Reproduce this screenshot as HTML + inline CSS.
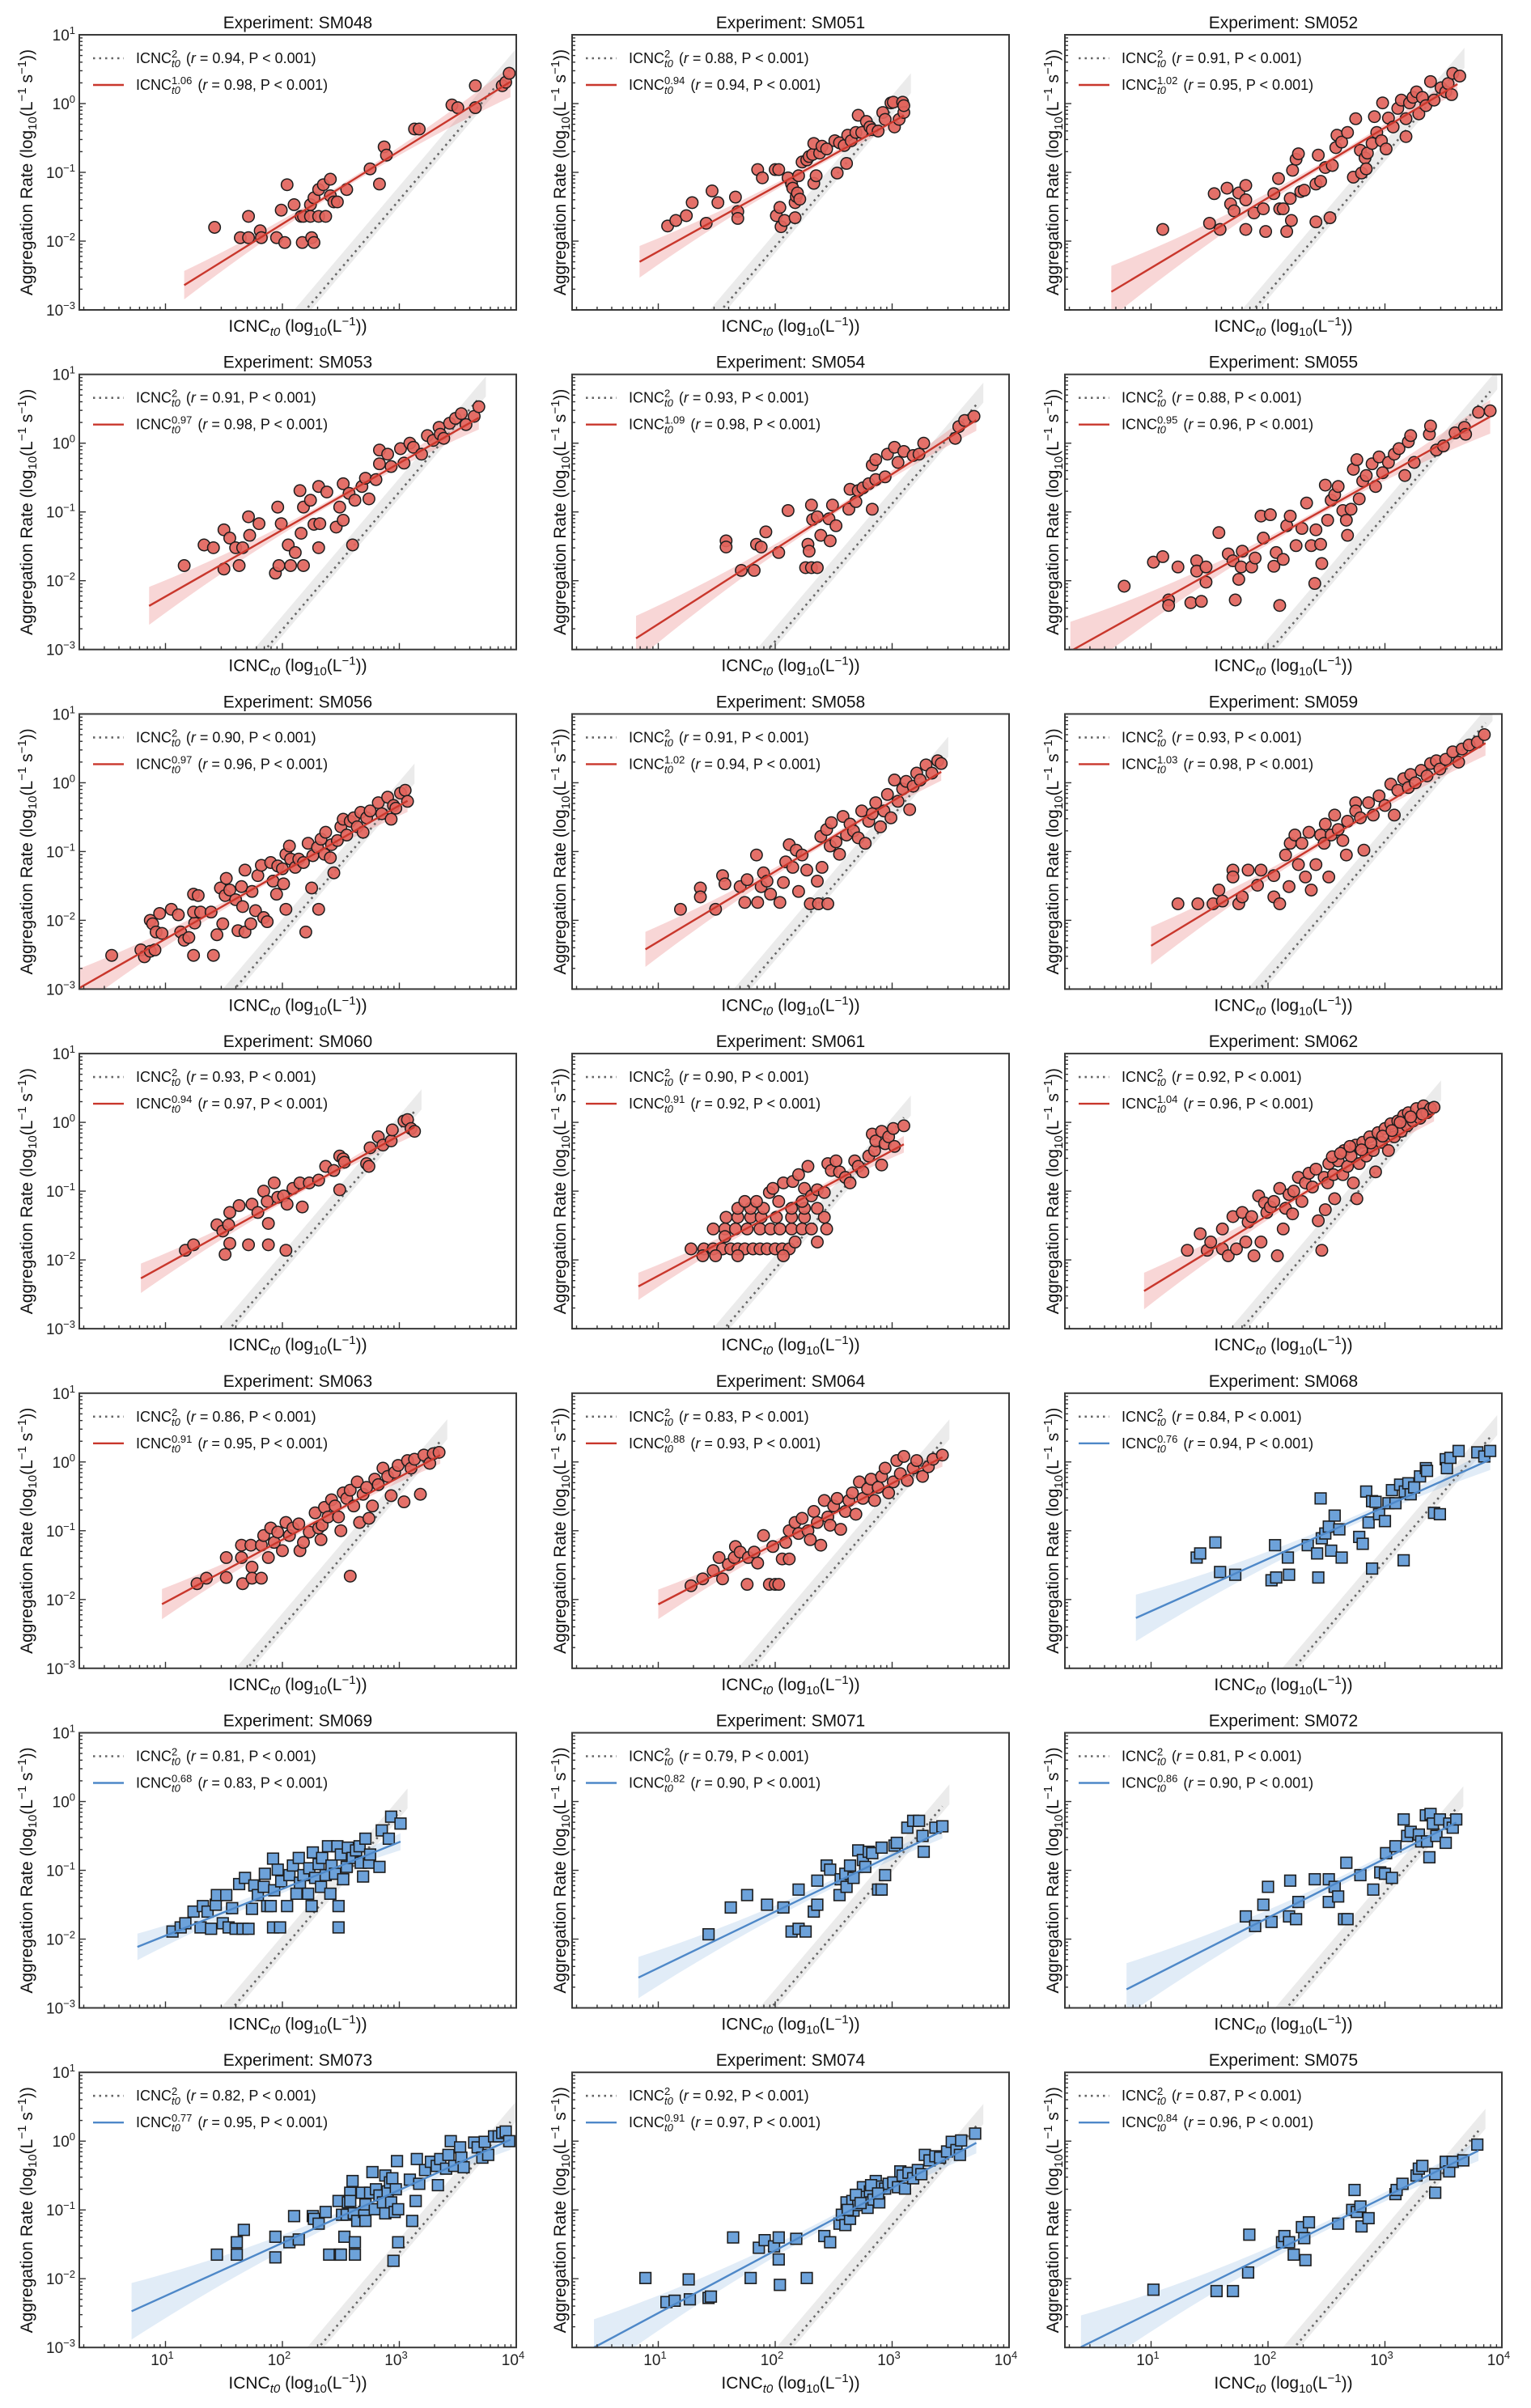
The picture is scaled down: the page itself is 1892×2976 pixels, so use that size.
<!DOCTYPE html>
<html><head><meta charset="utf-8"><title>Aggregation rate vs ICNC</title>
<style>
html,body{margin:0;padding:0;background:#fff;}
svg{display:block;font-family:"Liberation Sans",Arial,sans-serif;}
</style></head>
<body>
<svg id="fig" xmlns="http://www.w3.org/2000/svg" width="1892" height="2976" viewBox="0 0 1892 2976"></svg>
<script>
// ---------- chart data (log10 units) ----------
const panelNames = ["SM048","SM051","SM052","SM053","SM054","SM055","SM056","SM058","SM059","SM060","SM061","SM062","SM063","SM064","SM068","SM069","SM071","SM072","SM073","SM074","SM075"];
const exponents = [1.06,0.94,1.02,0.97,1.09,0.95,0.97,1.02,1.03,0.94,0.91,1.04,0.91,0.88,0.76,0.68,0.82,0.86,0.77,0.91,0.84];
const rSquareLaw = [0.94,0.88,0.91,0.91,0.93,0.88,0.90,0.91,0.93,0.93,0.90,0.92,0.86,0.83,0.84,0.81,0.79,0.81,0.82,0.92,0.87];
const rFit = [0.98,0.94,0.95,0.98,0.98,0.96,0.96,0.94,0.98,0.97,0.92,0.96,0.95,0.93,0.94,0.83,0.90,0.90,0.95,0.97,0.96];
const fitIntercepts = [-3.87,-3.09,-3.41,-3.2,-3.72,-3.32,-3.24,-3.33,-3.40,-3.01,-3.14,-3.43,-2.95,-2.95,-2.93,-2.63,-3.24,-3.41,-3.02,-3.41,-3.33];
const fitStart = [1.16,0.84,0.66,0.86,0.81,0.31,0.27,0.89,1.0,0.79,0.83,0.94,0.97,1.0,0.87,0.76,0.83,0.79,0.71,0.45,0.40];
const fitEnd = [3.95,3.1,3.62,3.68,3.72,3.9,3.07,3.42,3.86,3.13,3.1,3.42,3.35,3.43,3.9,3.01,3.43,3.61,3.95,3.72,3.8];
const grayIntercepts = [-7.4,-6.08,-6.75,-6.71,-6.88,-7.05,-6.18,-6.49,-6.85,-6.1,-6.13,-6.55,-6.4,-6.56,-7.44,-6.15,-6.93,-7.32,-7.62,-7.22,-7.45];
const xTickDecades = [1,2,3,4];
const yTickDecades = [1,0,-1,-2,-3];

const pts048 = [[1.42,-1.80],[1.64,-1.95],[1.71,-1.95],[1.71,-1.64],[1.81,-1.85],[1.82,-1.95],[1.95,-1.95],[1.99,-1.55],[2.02,-2.02],[2.04,-1.18],[2.10,-1.47],[2.16,-1.64],[2.17,-2.02],[2.18,-1.64],[2.24,-1.64],[2.24,-1.47],[2.25,-1.95],[2.27,-2.02],[2.27,-1.37],[2.31,-1.25],[2.31,-1.64],[2.35,-1.18],[2.37,-1.64],[2.41,-1.10],[2.41,-1.34],[2.44,-1.43],[2.47,-1.43],[2.55,-1.25],[2.75,-0.95],[2.83,-1.17],[2.87,-0.63],[2.89,-0.75],[3.13,-0.37],[3.17,-0.37],[3.45,-0.02],[3.50,-0.06],[3.65,0.26],[3.65,-0.06],[3.88,0.26],[3.91,0.31],[3.94,0.44]];
const pts051 = [[1.08,-1.78],[1.15,-1.70],[1.24,-1.63],[1.29,-1.44],[1.41,-1.74],[1.46,-1.27],[1.51,-1.44],[1.66,-1.36],[1.68,-1.57],[1.68,-1.67],[1.85,-0.96],[1.89,-1.08],[2.0,-0.96],[2.03,-0.96],[2.01,-1.63],[2.04,-1.51],[2.05,-1.79],[2.08,-1.70],[2.11,-1.08],[2.14,-1.17],[2.15,-1.23],[2.17,-1.44],[2.18,-1.35],[2.19,-1.30],[2.17,-1.66],[2.2,-1.05],[2.21,-1.39],[2.23,-0.85],[2.27,-0.82],[2.29,-0.77],[2.32,-0.74],[2.33,-1.16],[2.35,-1.05],[2.38,-0.72],[2.33,-0.58],[2.4,-0.62],[2.44,-0.66],[2.51,-0.54],[2.53,-1.01],[2.55,-0.57],[2.59,-0.61],[2.61,-0.87],[2.62,-0.46],[2.65,-0.54],[2.69,-0.42],[2.71,-0.17],[2.74,-0.42],[2.78,-0.26],[2.81,-0.34],[2.83,-0.38],[2.88,-0.40],[2.92,-0.13],[2.94,-0.23],[2.99,0.01],[3.01,0.02],[3.02,-0.34],[3.06,-0.23],[3.09,0.02],[3.1,-0.13],[3.1,-0.03]];
const pts052 = [[1.10,-1.83],[1.50,-1.74],[1.54,-1.31],[1.59,-1.83],[1.65,-1.23],[1.68,-1.46],[1.71,-1.56],[1.75,-1.30],[1.81,-1.19],[1.81,-1.40],[1.81,-1.83],[1.88,-1.59],[1.96,-1.53],[1.98,-1.86],[2.05,-1.31],[2.09,-1.09],[2.10,-1.53],[2.13,-1.53],[2.16,-1.86],[2.19,-1.38],[2.20,-1.70],[2.21,-0.97],[2.24,-0.81],[2.26,-0.73],[2.28,-1.28],[2.31,-1.26],[2.41,-1.72],[2.41,-1.17],[2.43,-0.75],[2.45,-1.13],[2.49,-0.93],[2.53,-1.66],[2.55,-0.90],[2.58,-0.64],[2.59,-0.46],[2.63,-0.56],[2.68,-0.42],[2.73,-1.07],[2.75,-0.22],[2.79,-0.68],[2.80,-1.01],[2.83,-0.79],[2.84,-0.95],[2.85,-0.72],[2.89,-0.58],[2.91,-0.19],[2.93,-0.42],[2.97,-0.54],[2.98,0.01],[3.01,-0.66],[3.03,-0.21],[3.07,-0.34],[3.11,-0.07],[3.14,0.05],[3.18,-0.22],[3.18,-0.48],[3.21,0.01],[3.24,0.09],[3.27,0.17],[3.29,-0.15],[3.32,0.09],[3.35,-0.03],[3.39,0.32],[3.42,0.05],[3.48,0.23],[3.52,0.17],[3.54,0.29],[3.57,0.13],[3.58,0.44],[3.64,0.40]];
const pts053 = [[1.16,-1.78],[1.33,-1.48],[1.41,-1.52],[1.50,-1.26],[1.50,-1.83],[1.55,-1.38],[1.60,-1.52],[1.63,-1.78],[1.66,-1.52],[1.71,-1.07],[1.72,-1.34],[1.80,-1.17],[1.96,-0.93],[1.94,-1.89],[1.97,-1.78],[1.99,-1.17],[2.05,-1.48],[2.07,-1.78],[2.11,-1.59],[2.15,-0.69],[2.16,-1.31],[2.18,-1.78],[2.18,-0.93],[2.24,-0.83],[2.27,-1.18],[2.31,-0.63],[2.31,-1.52],[2.32,-1.17],[2.38,-0.71],[2.46,-1.22],[2.49,-0.93],[2.52,-0.59],[2.52,-1.12],[2.57,-0.73],[2.60,-1.48],[2.62,-0.83],[2.68,-0.63],[2.71,-0.51],[2.74,-0.81],[2.80,-0.53],[2.83,-0.10],[2.83,-0.30],[2.90,-0.16],[2.93,-0.34],[3.01,-0.08],[3.04,-0.29],[3.09,0.00],[3.12,-0.06],[3.19,-0.16],[3.24,0.11],[3.29,0.04],[3.34,0.23],[3.35,0.13],[3.38,0.07],[3.43,0.29],[3.48,0.36],[3.53,0.43],[3.57,0.27],[3.64,0.39],[3.68,0.53]];
const pts054 = [[1.58,-1.42],[1.58,-1.51],[1.71,-1.85],[1.82,-1.85],[1.84,-1.47],[1.88,-1.51],[1.92,-1.29],[2.03,-1.59],[2.11,-0.98],[2.26,-1.81],[2.31,-1.81],[2.36,-1.81],[2.28,-1.47],[2.29,-1.57],[2.31,-0.90],[2.32,-1.11],[2.36,-1.07],[2.39,-1.34],[2.46,-1.10],[2.47,-1.42],[2.49,-0.90],[2.52,-1.20],[2.63,-0.96],[2.64,-0.67],[2.69,-0.85],[2.71,-0.69],[2.75,-0.65],[2.80,-0.59],[2.83,-0.96],[2.86,-0.53],[2.94,-0.49],[2.83,-0.32],[2.86,-0.24],[2.96,-0.16],[3.02,-0.06],[3.05,-0.28],[3.10,-0.12],[3.18,-0.18],[3.23,-0.16],[3.27,0.00],[3.54,0.07],[3.57,0.24],[3.62,0.33],[3.70,0.39]];
const pts055 = [[0.77,-2.08],[1.02,-1.73],[1.10,-1.65],[1.15,-2.28],[1.15,-2.36],[1.23,-1.80],[1.34,-2.32],[1.39,-1.71],[1.43,-2.30],[1.39,-1.86],[1.47,-2.02],[1.47,-1.80],[1.58,-1.30],[1.66,-1.61],[1.70,-1.71],[1.72,-2.28],[1.75,-1.98],[1.77,-1.80],[1.78,-1.57],[1.86,-1.80],[1.89,-1.67],[1.94,-1.06],[1.96,-1.38],[2.02,-1.04],[2.05,-1.79],[2.07,-1.59],[2.10,-2.36],[2.13,-1.69],[2.16,-1.20],[2.19,-1.06],[2.24,-1.49],[2.29,-1.24],[2.33,-0.87],[2.37,-1.49],[2.40,-2.04],[2.41,-1.26],[2.45,-1.47],[2.46,-1.75],[2.49,-0.61],[2.51,-1.12],[2.54,-0.83],[2.57,-0.75],[2.60,-0.63],[2.64,-0.98],[2.67,-1.12],[2.68,-1.34],[2.71,-0.96],[2.73,-0.38],[2.76,-0.24],[2.78,-0.81],[2.81,-0.55],[2.84,-0.47],[2.89,-0.30],[2.92,-0.63],[2.95,-0.20],[2.98,-0.43],[3.03,-0.28],[3.08,-0.16],[3.12,-0.08],[3.17,-0.47],[3.20,0.02],[3.22,0.11],[3.25,-0.28],[3.38,0.13],[3.39,0.25],[3.44,-0.10],[3.50,-0.04],[3.60,0.15],[3.68,0.23],[3.69,0.13],[3.80,0.45],[3.90,0.47]];
const pts056 = [[0.54,-2.51],[0.79,-2.43],[0.82,-2.53],[0.87,-2.45],[0.91,-2.43],[0.87,-2.00],[0.89,-2.05],[0.92,-2.17],[0.97,-2.19],[0.95,-1.90],[1.05,-1.84],[1.11,-1.92],[1.13,-2.17],[1.16,-2.29],[1.20,-2.25],[1.24,-2.51],[1.25,-2.04],[1.24,-1.62],[1.28,-1.64],[1.24,-1.88],[1.30,-1.88],[1.39,-1.88],[1.41,-2.51],[1.44,-2.21],[1.47,-1.53],[1.49,-2.05],[1.51,-1.64],[1.52,-1.39],[1.55,-1.56],[1.60,-1.70],[1.62,-2.15],[1.65,-1.51],[1.66,-1.80],[1.68,-2.17],[1.68,-1.27],[1.73,-2.05],[1.74,-1.58],[1.77,-1.86],[1.79,-1.35],[1.82,-1.20],[1.84,-1.96],[1.87,-2.02],[1.90,-1.16],[1.92,-1.43],[1.95,-1.62],[1.96,-1.21],[2.01,-1.47],[2.03,-1.84],[2.00,-1.25],[2.03,-1.04],[2.07,-1.11],[2.06,-0.92],[2.11,-1.23],[2.14,-1.11],[2.18,-1.16],[2.20,-2.17],[2.22,-0.88],[2.25,-1.53],[2.26,-1.06],[2.30,-0.94],[2.31,-1.84],[2.33,-0.82],[2.36,-1.04],[2.37,-0.72],[2.41,-1.09],[2.42,-0.90],[2.44,-1.31],[2.47,-0.84],[2.50,-0.64],[2.52,-0.53],[2.55,-0.76],[2.58,-0.56],[2.61,-0.51],[2.64,-0.64],[2.67,-0.43],[2.69,-0.72],[2.72,-0.51],[2.75,-0.41],[2.82,-0.29],[2.85,-0.45],[2.90,-0.21],[2.93,-0.53],[2.95,-0.33],[2.97,-0.37],[3.01,-0.15],[3.05,-0.11],[3.07,-0.27]];
const pts058 = [[1.19,-1.84],[1.36,-1.53],[1.36,-1.66],[1.49,-1.84],[1.55,-1.35],[1.57,-1.47],[1.70,-1.51],[1.74,-1.74],[1.76,-1.41],[1.84,-1.05],[1.85,-1.74],[1.88,-1.51],[1.90,-1.31],[1.93,-1.43],[1.96,-1.62],[2.04,-1.74],[2.07,-1.45],[2.09,-1.15],[2.12,-0.90],[2.15,-1.23],[2.18,-0.98],[2.20,-1.58],[2.23,-1.05],[2.27,-1.27],[2.30,-1.76],[2.36,-1.43],[2.37,-1.76],[2.39,-0.78],[2.40,-1.23],[2.44,-0.68],[2.45,-1.76],[2.47,-0.92],[2.48,-0.58],[2.52,-0.86],[2.55,-1.04],[2.58,-0.49],[2.61,-0.76],[2.64,-0.60],[2.67,-0.70],[2.71,-0.80],[2.74,-0.41],[2.77,-0.88],[2.80,-0.56],[2.83,-0.45],[2.86,-0.29],[2.90,-0.64],[2.93,-0.41],[2.96,-0.17],[2.99,-0.51],[3.02,0.04],[3.05,-0.27],[3.09,-0.09],[3.12,0.02],[3.15,-0.39],[3.18,-0.05],[3.21,0.14],[3.24,0.04],[3.29,0.26],[3.34,0.14],[3.39,0.32],[3.42,0.28]];
const pts059 = [[1.23,-1.76],[1.40,-1.76],[1.53,-1.76],[1.58,-1.56],[1.61,-1.72],[1.70,-1.27],[1.70,-1.37],[1.75,-1.76],[1.78,-1.66],[1.83,-1.27],[1.91,-1.49],[1.94,-1.27],[2.05,-1.35],[2.05,-1.66],[2.10,-1.76],[2.15,-1.05],[2.18,-1.51],[2.19,-0.88],[2.23,-0.76],[2.26,-1.19],[2.29,-0.88],[2.32,-1.37],[2.35,-0.72],[2.37,-1.56],[2.41,-1.19],[2.45,-0.76],[2.48,-0.88],[2.49,-0.60],[2.52,-1.37],[2.54,-0.76],[2.57,-0.47],[2.60,-0.68],[2.64,-0.84],[2.67,-1.05],[2.68,-0.56],[2.75,-0.29],[2.75,-0.41],[2.79,-0.51],[2.82,-0.98],[2.86,-0.29],[2.90,-0.47],[2.95,-0.19],[3.00,-0.33],[3.05,-0.02],[3.08,-0.47],[3.11,-0.11],[3.16,0.06],[3.20,-0.07],[3.22,0.12],[3.26,0.00],[3.31,0.18],[3.36,0.10],[3.39,0.28],[3.44,0.32],[3.47,0.20],[3.52,0.34],[3.58,0.45],[3.63,0.30],[3.66,0.49],[3.72,0.55],[3.79,0.59],[3.85,0.70]];
const pts060 = [[1.17,-1.86],[1.24,-1.78],[1.44,-1.49],[1.49,-1.58],[1.51,-1.92],[1.54,-1.49],[1.55,-1.76],[1.55,-1.31],[1.63,-1.21],[1.71,-1.78],[1.74,-1.19],[1.79,-1.31],[1.84,-1.00],[1.87,-1.15],[1.88,-1.47],[1.88,-1.78],[1.93,-0.88],[1.96,-1.09],[2.01,-1.07],[2.03,-1.86],[2.04,-1.19],[2.09,-0.96],[2.15,-0.88],[2.17,-1.23],[2.23,-0.88],[2.31,-0.84],[2.37,-0.64],[2.44,-0.70],[2.49,-0.98],[2.49,-0.49],[2.52,-0.53],[2.53,-0.58],[2.72,-0.60],[2.74,-0.64],[2.75,-0.37],[2.82,-0.21],[2.86,-0.33],[2.93,-0.27],[2.94,-0.11],[3.04,0.02],[3.07,0.04],[3.10,-0.09],[3.13,-0.13]];
const pts061 = [[1.28,-1.84],[1.39,-1.84],[1.47,-1.84],[1.55,-1.84],[1.62,-1.84],[1.68,-1.84],[1.74,-1.84],[1.81,-1.84],[1.87,-1.84],[1.93,-1.84],[2.00,-1.84],[2.06,-1.84],[2.12,-1.84],[1.38,-1.94],[1.49,-1.94],[2.07,-1.94],[1.68,-1.94],[1.47,-1.55],[1.57,-1.55],[1.66,-1.55],[1.76,-1.55],[1.87,-1.55],[1.96,-1.55],[2.04,-1.55],[2.14,-1.55],[2.23,-1.55],[2.31,-1.55],[2.44,-1.55],[1.58,-1.38],[1.68,-1.38],[1.79,-1.38],[1.88,-1.38],[2.01,-1.38],[2.14,-1.38],[2.25,-1.38],[2.42,-1.38],[1.68,-1.25],[1.79,-1.25],[1.90,-1.25],[2.14,-1.25],[2.25,-1.25],[2.36,-1.25],[1.74,-1.15],[1.84,-1.15],[2.03,-1.15],[2.23,-1.15],[1.57,-1.66],[2.17,-1.74],[2.36,-1.74],[1.95,-1.02],[1.98,-0.96],[2.07,-0.88],[2.15,-0.86],[2.25,-0.96],[2.28,-0.64],[2.20,-0.76],[2.31,-1.07],[2.36,-0.98],[2.42,-1.02],[2.45,-0.60],[2.48,-0.70],[2.52,-0.56],[2.55,-0.72],[2.60,-0.80],[2.64,-0.88],[2.68,-0.56],[2.71,-0.64],[2.75,-0.72],[2.80,-0.49],[2.85,-0.41],[2.91,-0.62],[2.83,-0.17],[2.86,-0.27],[2.91,-0.13],[2.94,-0.31],[2.97,-0.21],[3.01,-0.09],[3.02,-0.35],[3.10,-0.05]];
const pts062 = [[1.31,-1.86],[1.42,-1.62],[1.48,-1.86],[1.51,-1.74],[1.61,-1.55],[1.61,-1.84],[1.66,-1.94],[1.70,-1.37],[1.73,-1.84],[1.78,-1.31],[1.81,-1.74],[1.83,-1.45],[1.86,-1.37],[1.88,-1.94],[1.92,-1.07],[1.94,-1.74],[1.97,-1.17],[1.99,-1.31],[2.02,-1.23],[2.05,-1.15],[2.08,-1.94],[2.10,-0.96],[2.13,-1.55],[2.15,-1.25],[2.18,-1.05],[2.21,-1.33],[2.22,-1.00],[2.26,-0.80],[2.29,-1.15],[2.32,-0.88],[2.35,-0.74],[2.38,-0.94],[2.41,-0.68],[2.43,-1.43],[2.46,-1.86],[2.48,-0.80],[2.49,-1.27],[2.51,-0.88],[2.52,-0.60],[2.56,-0.76],[2.57,-1.11],[2.60,-0.56],[2.64,-0.76],[2.65,-0.41],[2.68,-0.64],[2.71,-0.49],[2.73,-0.88],[2.75,-0.33],[2.76,-1.11],[2.78,-0.60],[2.81,-0.29],[2.84,-0.49],[2.87,-0.21],[2.90,-0.41],[2.92,-0.72],[2.94,-0.15],[2.97,-0.29],[3.00,-0.09],[3.03,-0.41],[3.05,-0.02],[3.08,-0.21],[3.11,0.02],[3.14,-0.13],[3.16,0.10],[3.19,-0.05],[3.20,0.14],[3.24,0.02],[3.27,0.20],[3.30,0.06],[3.33,0.24],[3.36,0.14],[3.39,0.20],[3.42,0.22],[2.55,-0.50],[2.62,-0.45],[2.70,-0.35],[2.80,-0.40],[2.88,-0.30],[2.98,-0.20],[3.06,-0.12],[3.13,0.00],[3.22,0.08],[3.32,0.12]];
const pts063 = [[1.27,-1.77],[1.35,-1.69],[1.52,-1.39],[1.52,-1.68],[1.65,-1.39],[1.66,-1.77],[1.65,-1.21],[1.73,-1.21],[1.74,-1.53],[1.74,-1.69],[1.82,-1.69],[1.82,-1.21],[1.84,-1.07],[1.88,-1.39],[1.90,-0.96],[1.93,-1.17],[1.96,-1.02],[2.00,-1.29],[2.03,-0.88],[2.06,-1.07],[2.09,-0.96],[2.14,-0.90],[2.15,-1.29],[2.18,-1.17],[2.23,-1.02],[2.28,-0.74],[2.31,-0.96],[2.33,-1.13],[2.34,-0.92],[2.36,-0.66],[2.39,-0.80],[2.42,-0.55],[2.45,-0.64],[2.48,-0.80],[2.50,-1.00],[2.52,-0.45],[2.55,-0.53],[2.58,-0.41],[2.58,-1.66],[2.61,-0.64],[2.64,-0.29],[2.66,-0.88],[2.69,-0.47],[2.72,-0.37],[2.74,-0.82],[2.77,-0.64],[2.79,-0.25],[2.82,-0.33],[2.86,-0.09],[2.90,-0.21],[2.93,-0.49],[2.96,-0.15],[2.99,-0.05],[3.04,-0.58],[3.07,0.02],[3.10,-0.09],[3.13,0.04],[3.18,-0.47],[3.21,0.10],[3.26,-0.02],[3.29,0.12],[3.34,0.14]];
const pts064 = [[1.28,-1.80],[1.38,-1.70],[1.47,-1.58],[1.52,-1.39],[1.55,-1.70],[1.60,-1.49],[1.65,-1.39],[1.66,-1.23],[1.70,-1.31],[1.76,-1.78],[1.77,-1.39],[1.82,-1.31],[1.85,-1.47],[1.90,-1.07],[1.95,-1.78],[2.00,-1.78],[2.03,-1.78],[1.98,-1.23],[2.06,-1.41],[2.09,-1.17],[2.12,-1.41],[2.12,-1.00],[2.17,-0.88],[2.20,-1.04],[2.23,-0.82],[2.28,-1.00],[2.30,-1.13],[2.33,-0.72],[2.36,-0.88],[2.39,-1.21],[2.42,-0.56],[2.45,-0.80],[2.47,-0.92],[2.50,-0.64],[2.53,-0.53],[2.56,-0.98],[2.60,-0.72],[2.63,-0.56],[2.66,-0.45],[2.69,-0.76],[2.72,-0.29],[2.75,-0.53],[2.79,-0.39],[2.82,-0.25],[2.85,-0.56],[2.88,-0.37],[2.91,-0.21],[2.94,-0.09],[2.97,-0.45],[3.01,-0.29],[3.04,0.02],[3.07,-0.17],[3.10,0.08],[3.13,-0.27],[3.18,-0.09],[3.21,0.02],[3.26,-0.21],[3.31,-0.07],[3.35,0.04],[3.43,0.10]];
const pts068 = [[1.39,-1.39],[1.42,-1.33],[1.55,-1.17],[1.59,-1.60],[1.72,-1.64],[2.03,-1.72],[2.07,-1.68],[2.06,-1.21],[2.17,-1.39],[2.18,-1.64],[2.34,-1.21],[2.42,-1.33],[2.43,-1.68],[2.45,-0.53],[2.46,-1.11],[2.49,-1.04],[2.52,-0.94],[2.54,-1.29],[2.57,-0.78],[2.61,-0.98],[2.63,-1.39],[2.78,-1.09],[2.81,-1.19],[2.84,-0.43],[2.86,-0.88],[2.89,-0.57],[2.89,-1.55],[2.92,-0.58],[2.95,-0.76],[3.00,-0.86],[3.03,-0.60],[3.06,-0.41],[3.09,-0.60],[3.13,-0.33],[3.16,-1.43],[3.17,-0.43],[3.20,-0.31],[3.22,-0.47],[3.25,-0.37],[3.30,-0.21],[3.35,-0.09],[3.36,-0.13],[3.42,-0.74],[3.47,-0.76],[3.52,0.04],[3.53,-0.09],[3.56,0.06],[3.63,0.16],[3.79,0.14],[3.85,0.08],[3.90,0.16]];
const pts069 = [[1.06,-1.89],[1.13,-1.83],[1.17,-1.77],[1.24,-1.60],[1.30,-1.83],[1.32,-1.52],[1.36,-1.60],[1.39,-1.85],[1.43,-1.50],[1.44,-1.36],[1.49,-1.77],[1.52,-1.36],[1.54,-1.83],[1.57,-1.55],[1.60,-1.85],[1.63,-1.20],[1.66,-1.85],[1.68,-1.11],[1.71,-1.85],[1.74,-1.56],[1.76,-1.22],[1.79,-1.36],[1.84,-1.24],[1.85,-1.05],[1.87,-1.52],[1.90,-1.52],[1.92,-0.83],[1.92,-1.83],[1.93,-1.29],[1.96,-0.99],[1.98,-1.83],[1.99,-1.16],[2.04,-1.52],[2.06,-1.07],[2.09,-0.93],[2.12,-1.34],[2.14,-0.82],[2.15,-1.18],[2.18,-1.07],[2.22,-1.34],[2.23,-0.97],[2.25,-1.52],[2.26,-0.74],[2.28,-1.11],[2.31,-0.91],[2.33,-1.24],[2.34,-0.82],[2.37,-1.07],[2.39,-0.65],[2.41,-1.34],[2.42,-0.93],[2.45,-1.05],[2.47,-0.65],[2.48,-1.83],[2.48,-1.52],[2.50,-0.77],[2.52,-1.13],[2.55,-0.95],[2.56,-0.67],[2.60,-0.82],[2.63,-0.71],[2.66,-0.65],[2.67,-0.89],[2.69,-1.09],[2.71,-0.54],[2.74,-0.89],[2.75,-0.77],[2.83,-0.95],[2.85,-0.42],[2.91,-0.54],[2.93,-0.22],[3.01,-0.32]];
const pts071 = [[1.43,-1.93],[1.62,-1.54],[1.76,-1.36],[1.93,-1.50],[2.07,-1.54],[2.14,-1.89],[2.20,-1.85],[2.26,-1.89],[2.20,-1.28],[2.33,-1.60],[2.36,-1.50],[2.36,-1.15],[2.44,-0.93],[2.47,-0.99],[2.55,-1.36],[2.56,-1.13],[2.60,-1.05],[2.61,-1.24],[2.64,-0.93],[2.67,-1.11],[2.71,-0.71],[2.75,-0.85],[2.77,-0.95],[2.80,-0.73],[2.83,-0.75],[2.88,-1.28],[2.91,-1.28],[2.91,-0.67],[2.94,-1.07],[3.02,-0.64],[3.04,-0.60],[3.13,-0.38],[3.18,-0.28],[3.23,-0.28],[3.26,-0.50],[3.27,-0.73],[3.37,-0.38],[3.43,-0.36]];
const pts072 = [[1.81,-1.67],[1.89,-1.81],[1.96,-1.50],[2.00,-1.24],[2.03,-1.75],[2.18,-1.67],[2.19,-1.15],[2.24,-1.71],[2.26,-1.46],[2.40,-1.13],[2.52,-1.46],[2.52,-1.13],[2.57,-1.24],[2.60,-1.38],[2.65,-1.71],[2.68,-1.71],[2.67,-0.89],[2.79,-1.07],[2.90,-1.28],[2.96,-1.03],[3.00,-1.05],[3.01,-0.75],[3.06,-1.11],[3.09,-0.65],[3.16,-0.26],[3.19,-0.50],[3.22,-0.44],[3.29,-0.48],[3.31,-0.58],[3.35,-0.20],[3.36,-0.58],[3.38,-0.81],[3.39,-0.18],[3.41,-0.32],[3.44,-0.50],[3.47,-0.26],[3.52,-0.60],[3.55,-0.32],[3.58,-0.38],[3.61,-0.26]];
const pts073 = [[1.44,-1.65],[1.61,-1.65],[1.61,-1.47],[1.67,-1.29],[1.94,-1.39],[1.94,-1.69],[2.06,-1.47],[2.10,-1.09],[2.14,-1.43],[2.26,-1.09],[2.27,-1.13],[2.31,-1.20],[2.37,-1.03],[2.40,-1.65],[2.48,-0.87],[2.49,-1.65],[2.50,-1.65],[2.51,-1.07],[2.53,-1.39],[2.55,-1.07],[2.56,-0.89],[2.58,-0.75],[2.58,-0.87],[2.60,-0.58],[2.61,-1.05],[2.62,-1.65],[2.62,-1.47],[2.64,-1.16],[2.68,-0.75],[2.70,-1.03],[2.71,-1.16],[2.71,-0.92],[2.75,-0.75],[2.77,-0.45],[2.79,-0.99],[2.80,-0.70],[2.83,-0.79],[2.86,-0.89],[2.88,-0.50],[2.88,-1.05],[2.90,-0.73],[2.92,-0.60],[2.93,-0.89],[2.94,-0.54],[2.96,-1.03],[2.97,-0.70],[2.98,-0.29],[2.99,-0.99],[2.99,-1.47],[2.95,-1.74],[3.09,-0.56],[3.11,-1.16],[3.14,-0.87],[3.15,-0.26],[3.17,-0.62],[3.22,-0.42],[3.27,-0.30],[3.32,-0.36],[3.33,-0.64],[3.35,-0.26],[3.40,-0.40],[3.42,-0.20],[3.44,0.00],[3.47,-0.36],[3.52,-0.09],[3.53,-0.24],[3.55,-0.38],[3.64,-0.02],[3.67,-0.09],[3.71,-0.24],[3.73,-0.01],[3.76,-0.20],[3.81,0.07],[3.85,0.07],[3.88,0.12],[3.91,0.14],[3.94,0.00]];
const pts074 = [[0.89,-1.99],[1.07,-2.34],[1.14,-2.32],[1.26,-2.01],[1.27,-2.30],[1.43,-2.28],[1.45,-2.26],[1.64,-1.40],[1.79,-1.99],[1.86,-1.55],[1.91,-1.44],[1.99,-1.53],[2.03,-1.40],[2.03,-1.72],[2.04,-2.09],[2.18,-1.42],[2.27,-1.99],[2.42,-1.38],[2.47,-1.47],[2.55,-1.20],[2.57,-1.07],[2.60,-1.22],[2.61,-0.89],[2.64,-1.13],[2.66,-0.87],[2.67,-1.01],[2.71,-0.93],[2.75,-0.67],[2.77,-0.81],[2.79,-0.97],[2.81,-0.73],[2.84,-0.85],[2.86,-0.58],[2.89,-0.89],[2.91,-0.66],[2.94,-0.69],[2.97,-0.62],[3.01,-0.60],[3.05,-0.67],[3.07,-0.44],[3.09,-0.50],[3.11,-0.69],[3.14,-0.46],[3.18,-0.54],[3.22,-0.42],[3.25,-0.48],[3.28,-0.20],[3.32,-0.28],[3.37,-0.22],[3.41,-0.24],[3.47,-0.15],[3.51,-0.01],[3.55,-0.13],[3.58,-0.20],[3.59,0.01],[3.71,0.11],[2.62,-1.00],[2.69,-0.78],[2.73,-0.90],[2.82,-0.64],[2.88,-0.76]];
const pts075 = [[1.02,-2.16],[1.56,-2.18],[1.70,-2.18],[1.83,-1.91],[1.84,-1.36],[2.12,-1.47],[2.14,-1.38],[2.18,-1.47],[2.22,-1.65],[2.29,-1.25],[2.31,-1.41],[2.32,-1.73],[2.35,-1.18],[2.60,-1.20],[2.72,-1.00],[2.74,-0.71],[2.76,-1.03],[2.79,-0.95],[2.80,-1.24],[2.86,-1.12],[3.09,-0.77],[3.10,-0.71],[3.15,-0.62],[3.27,-0.50],[3.29,-0.40],[3.32,-0.36],[3.43,-0.48],[3.43,-0.75],[3.52,-0.30],[3.55,-0.44],[3.58,-0.30],[3.67,-0.28],[3.79,-0.05]];
const panelPoints = [pts048,pts051,pts052,pts053,pts054,pts055,pts056,pts058,pts059,pts060,pts061,pts062,pts063,pts064,pts068,pts069,pts071,pts072,pts073,pts074,pts075];

// ---------- layout ----------
const NS = "http://www.w3.org/2000/svg";
const svg = document.getElementById('fig');
const COL_L = [98, 707, 1316];
const ROW_T0 = 43, ROW_STEP = 419.7, W = 540, H = 340;
const XMIN = 0.263, XDEC = 144.5, YDEC = 85;

function el(tag, attrs, parent) {
  const e = document.createElementNS(NS, tag);
  for (const k in attrs) e.setAttribute(k, attrs[k]);
  (parent || svg).appendChild(e);
  return e;
}
function digitW(s, fs) {
  let w = 0;
  for (const c of s) w += (c === '.' ? 0.278 : c === '−' ? 0.584 : c === 't' ? 0.278 : 0.556) * fs;
  return w;
}

panelNames.forEach((name, i) => {
  const c = i % 3, r = Math.floor(i / 3);
  const L = COL_L[c], T = ROW_T0 + r * ROW_STEP, B = T + H;
  const xs = lx => L + (lx - XMIN) * XDEC;
  const ys = ly => T + (1 - ly) * YDEC;
  const blue = i >= 14;
  const markFill = blue ? '#6DA2DA' : '#E2645C';
  const lineCol = blue ? '#4E88C8' : '#C9372C';
  const bandCol = blue ? 'rgba(120,168,220,0.22)' : 'rgba(232,120,120,0.30)';
  const g = el('g', {});
  
  

  const clipId = 'clip' + i;
  const cp = el('clipPath', { id: clipId }, g);
  el('rect', { x: L, y: T, width: W, height: H }, cp);
  const plot = el('g', { 'clip-path': 'url(#' + clipId + ')' }, g);
  
  

  const pts = panelPoints[i];
  const xm = pts.reduce((a, p) => a + p[0], 0) / pts.length;
  const slope = exponents[i], b0 = fitIntercepts[i], gb = grayIntercepts[i];

  // gray reference band + line (slope 2)
  const gx0 = (-3.3 - gb) / 2, gx1 = fitEnd[i] + 0.06;
  let up = [], lo = [];
  for (let k = 0; k <= 20; k++) {
    const lx = gx0 + (gx1 - gx0) * k / 20;
    const ly = 2 * lx + gb;
    up.push(xs(lx) + ',' + ys(ly + 0.2));
    lo.unshift(xs(lx) + ',' + ys(ly - 0.09));
  }
  const gband = el('polygon', { points: up.concat(lo).join(' '), fill: 'rgba(190,190,190,0.3)' }, plot);
  
  

  // fit band
  up = []; lo = [];
  const a0 = blue ? 0.06 : 0.04, a1 = blue ? 0.075 : 0.09;
  for (let k = 0; k <= 30; k++) {
    const lx = fitStart[i] + (fitEnd[i] - fitStart[i]) * k / 30;
    const ly = slope * lx + b0, hw = a0 + a1 * (lx - xm) * (lx - xm);
    up.push(xs(lx) + ',' + ys(ly + hw));
    lo.unshift(xs(lx) + ',' + ys(ly - hw));
  }
  const fband = el('polygon', { points: up.concat(lo).join(' '), fill: bandCol }, plot);
  
  

  const gl = el('line', { x1: xs(gx0), y1: ys(2 * gx0 + gb), x2: xs(fitEnd[i]), y2: ys(2 * fitEnd[i] + gb), stroke: '#666', 'stroke-width': 2.6, 'stroke-dasharray': '2.5 5' }, plot);
  
  

  // points
  pts.forEach(p => {
    let m;
    if (blue) {
      m = el('rect', { x: xs(p[0]) - 6.8, y: ys(p[1]) - 6.8, width: 13.6, height: 13.6, fill: markFill, stroke: '#1d1d1d', 'stroke-width': 1.6 }, plot);
    } else {
      m = el('circle', { cx: xs(p[0]), cy: ys(p[1]), r: 7.2, fill: markFill, 'fill-opacity': 0.92, stroke: '#1d1d1d', 'stroke-width': 1.5 }, plot);
    }
    
    
  });

  const fl = el('line', { x1: xs(fitStart[i]), y1: ys(slope * fitStart[i] + b0), x2: xs(fitEnd[i]), y2: ys(slope * fitEnd[i] + b0), stroke: lineCol, 'stroke-width': 2.4 }, plot);
  
  

  // frame
  const fr = el('rect', { x: L, y: T, width: W, height: H, fill: 'none', stroke: '#3a3a3a', 'stroke-width': 2 }, g);
  
  

  // ticks
  const tk = el('g', { stroke: '#333', 'stroke-width': 1.4 }, g);
  
  
  for (let d = 0; d <= 3; d++) {
    for (let m = 1; m <= 9; m++) {
      const lx = d + Math.log10(m);
      if (lx < XMIN || lx > 4) continue;
      const len = m === 1 ? 8 : 4;
      el('line', { x1: xs(lx), y1: B, x2: xs(lx), y2: B - len }, tk);
    }
  }
  for (let d = -3; d <= 0; d++) {
    for (let m = 1; m <= 9; m++) {
      const ly = d + Math.log10(m);
      const len = m === 1 ? 8 : 4;
      el('line', { x1: L, y1: ys(ly), x2: L + len, y2: ys(ly) }, tk);
    }
  }

  if (c === 0) {
    yTickDecades.forEach(d => {
      const t = el('text', { x: L - 5, y: ys(d) + 7, 'font-size': 19, 'text-anchor': 'end', fill: '#222' }, g);
      
      
      t.innerHTML = '10<tspan dy="-8" font-size="13">' + (d < 0 ? '−' + (-d) : d) + '</tspan>';
    });
  }
  if (r === 6) {
    xTickDecades.forEach(d => {
      const t = el('text', { x: xs(d) - 4, y: B + 22, 'font-size': 19, 'text-anchor': 'middle', fill: '#222' }, g);
      
      
      t.innerHTML = '10<tspan dy="-8" font-size="13">' + d + '</tspan>';
    });
  }

  const ti = el('text', { x: L + W / 2, y: T - 8, 'font-size': 21, 'text-anchor': 'middle', fill: '#111' }, g);
  
  
  ti.textContent = 'Experiment: ' + name;

  const xl = el('text', { x: L + W / 2, y: B + (r === 6 ? 51 : 27), 'font-size': 21, 'text-anchor': 'middle', fill: '#111' }, g);
  
  
  xl.innerHTML = 'ICNC<tspan dy="5" font-size="15" font-style="italic">t0</tspan><tspan dy="-5"> (log</tspan><tspan dy="5" font-size="15">10</tspan><tspan dy="-5">(L</tspan><tspan dy="-8" font-size="15">−1</tspan><tspan dy="8">))</tspan>';

  const yx = c === 0 ? 40 : L - 8;
  const yl = el('text', { x: 0, y: 0, transform: 'translate(' + yx + ',' + (T + H / 2) + ') rotate(-90)', 'font-size': 21, 'text-anchor': 'middle', fill: '#111' }, g);
  
  
  yl.innerHTML = 'Aggregation Rate (log<tspan dy="5" font-size="15">10</tspan><tspan dy="-5">(L</tspan><tspan dy="-8" font-size="15">−1</tspan><tspan dy="8"> s</tspan><tspan dy="-8" font-size="15">−1</tspan><tspan dy="8">))</tspan>';

  const lg = el('g', {}, g);
  
  
  const entries = [
    { sup: '2', r: rSquareLaw[i], dash: true, col: '#666' },
    { sup: exponents[i].toFixed(2), r: rFit[i], dash: false, col: lineCol }
  ];
  entries.forEach((e, k) => {
    const yy = T + 29 + k * 33;
    const ln = el('line', { x1: L + 17, y1: yy, x2: L + 55, y2: yy, stroke: e.col, 'stroke-width': e.dash ? 2.6 : 2.4 }, lg);
    if (e.dash) ln.setAttribute('stroke-dasharray', '2.5 5');
    
    
    const fs = 13;
    const sw = digitW(e.sup, fs), bw = digitW('t0', fs);
    const extra = Math.max(0, sw - bw);
    const t = el('text', { x: L + 70, y: yy + 6, 'font-size': 18, fill: '#111' }, lg);
    
    
    t.innerHTML = 'ICNC<tspan dy="-7" font-size="' + fs + '">' + e.sup + '</tspan><tspan dx="' + (-sw) + '" dy="12" font-size="' + fs + '" font-style="italic">t0</tspan><tspan dx="' + (extra + 2) + '" dy="-5"> (</tspan><tspan font-style="italic">r</tspan> = ' + e.r.toFixed(2) + ', P &lt; 0.001)';
  });
});
</script>
</body></html>
